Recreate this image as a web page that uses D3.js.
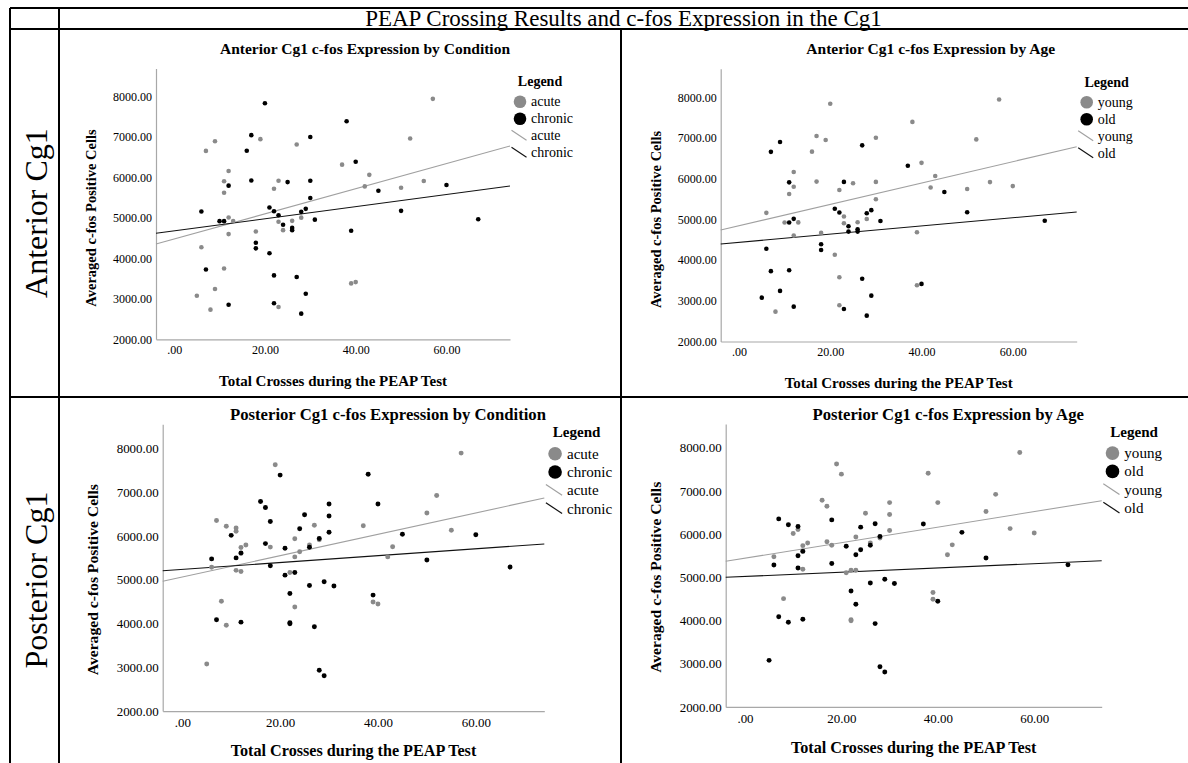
<!DOCTYPE html>
<html>
<head>
<meta charset="utf-8">
<script src="https://cdn.jsdelivr.net/npm/d3@7"></script>
<style>
  body { margin: 0; background: #fff; }
  svg text { font-family: "Liberation Serif", "Times New Roman", serif; fill: #000; }
</style>
</head>
<body>
<div id="chart"></div>
<script>
// 1: DATA - one entry per animal, the same animals appear in all four panels
const crosses = [5, 6, 6, 7, 7, 8, 9, 9, 10, 11, 11, 11, 11, 12, 12, 12, 12, 12, 13, 16,
    17, 17, 18, 18, 18, 19, 20, 21, 21, 22, 22, 22, 22, 23, 23, 23, 23, 24, 24, 25,
    26, 26, 26, 27, 27, 28, 28, 28, 29, 29, 30, 30, 30, 31, 37, 38, 39, 39, 40, 40,
    42, 43, 45, 50, 50, 52, 55, 57, 60, 67];
const anteriorCfos = [3078, 5161, 4278, 6660, 3728, 2733, 6900, 3243, 4922, 5910, 5625, 4922, 3752, 6163, 5801, 5013, 4602, 2856, 4926, 6665,
    7050, 5929, 4668, 4389, 4249, 6950, 7840, 5260, 4130, 5723, 5169, 3580, 2890, 5921, 5070, 4906, 2799, 4832, 4700, 5888,
    4930, 4755, 4700, 6820, 3542, 5152, 5009, 2635, 5227, 3127, 7005, 5921, 5494, 4960, 6320, 7395, 4685, 3383, 6390, 3415,
    5782, 6068, 5675, 5748, 5177, 6965, 5917, 7947, 5818, 4968];
const posteriorCfos = [3077, 5475, 5283, 6352, 4088, 4506, 6218, 3958, 6012, 6178, 6104, 5498, 5213, 5733, 5612, 5600, 5186, 4031, 5793, 6785,
    6647, 5824, 5744, 6329, 5319, 7625, 7388, 5717, 5104, 5165, 4685, 4015, 3995, 5521, 5165, 5935, 4376, 6161, 5640, 6483,
    5794, 5741, 4869, 6242, 3928, 5943, 5910, 2931, 4954, 2808, 6729, 6456, 6081, 4855, 6234, 7407, 4648, 4491, 6729, 4445,
    5521, 5751, 6040, 6522, 5449, 6920, 6127, 7890, 6027, 5288];
const condition = ["acute", "chronic", "acute", "acute", "chronic", "acute", "acute", "acute", "chronic", "acute",
    "acute", "chronic", "acute", "acute", "chronic", "acute", "acute", "chronic", "acute", "chronic",
    "chronic", "chronic", "acute", "chronic", "chronic", "acute", "chronic", "chronic", "chronic", "acute",
    "chronic", "chronic", "chronic", "acute", "chronic", "acute", "acute", "chronic", "acute", "chronic",
    "acute", "chronic", "chronic", "acute", "chronic", "chronic", "acute", "chronic", "chronic", "chronic",
    "chronic", "chronic", "chronic", "chronic", "acute", "chronic", "chronic", "acute", "chronic", "acute",
    "acute", "acute", "chronic", "acute", "chronic", "acute", "acute", "acute", "chronic", "chronic"];
const ageGroup = ["old", "young", "old", "old", "old", "young", "old", "old", "young", "old",
    "young", "old", "old", "young", "young", "old", "young", "old", "young", "young",
    "young", "young", "young", "old", "old", "young", "young", "old", "young", "young",
    "old", "young", "young", "old", "young", "young", "old", "old", "old", "young",
    "young", "old", "old", "old", "old", "old", "young", "old", "old", "old",
    "young", "young", "young", "old", "old", "young", "young", "young", "young", "old",
    "young", "young", "old", "young", "old", "young", "young", "young", "young", "old"];

const xTicks = [0, 20, 40, 60];
const yTicks = [2000, 3000, 4000, 5000, 6000, 7000, 8000];
const xDomain = [-4, 74];

// fit lines: [value at left end of x axis, value at right end]
const antConditionFit = [[4357, 6781], [4622, 5792]];
const antAgeFit = [[4740, 6786], [4396, 5182]];
const postConditionFit = [[4963, 6865], [5205, 5815]];
const postAgeFit = [[5370, 6773], [5000, 5384]];

const conditionGroups = ["acute", "chronic"];
const ageGroups = ["young", "old"];
const groupColors = ["#8a8a8a", "#000000"];
const lineColors = ["#a0a0a0", "#111111"];

// 2: PAGE + TABLE
const W = 1188, H = 763;
const svg = d3.select("#chart").append("svg").attr("width", W).attr("height", H);

const tbl = { left: 10, top: 8, col: 59, titleBottom: 29, rowSplit: 397, mid: 621, right: W };
const border = svg.append("g").attr("stroke", "#000").attr("stroke-width", 2);
border.append("line").attr("x1", tbl.left).attr("x2", tbl.right).attr("y1", tbl.top).attr("y2", tbl.top);
border.append("line").attr("x1", tbl.left).attr("x2", tbl.right).attr("y1", tbl.titleBottom).attr("y2", tbl.titleBottom);
border.append("line").attr("x1", tbl.left).attr("x2", tbl.right).attr("y1", tbl.rowSplit).attr("y2", tbl.rowSplit);
border.append("line").attr("x1", tbl.left).attr("x2", tbl.left).attr("y1", tbl.top).attr("y2", H);
border.append("line").attr("x1", tbl.col).attr("x2", tbl.col).attr("y1", tbl.top).attr("y2", H);
border.append("line").attr("x1", tbl.mid).attr("x2", tbl.mid).attr("y1", tbl.titleBottom).attr("y2", H);

svg.append("text")
    .attr("x", (tbl.col + tbl.right) / 2)
    .attr("y", (tbl.top + tbl.titleBottom) / 2)
    .attr("text-anchor", "middle")
    .attr("dominant-baseline", "central")
    .style("font-size", "23px")
    .text("PEAP Crossing Results and c-fos Expression in the Cg1");

[["Anterior Cg1", (tbl.titleBottom + tbl.rowSplit) / 2], ["Posterior Cg1", (tbl.rowSplit + H) / 2]].forEach(([label, cy]) => {
    svg.append("text")
        .attr("transform", `translate(${(tbl.left + tbl.col) / 2 + 1},${cy}) rotate(-90)`)
        .attr("text-anchor", "middle")
        .attr("dominant-baseline", "central")
        .style("font-size", "32px")
        .text(label);
});

// 3: PANELS
const panels = [
    { title: "Anterior Cg1 c-fos Expression by Condition", values: anteriorCfos, key: condition, groups: conditionGroups, fit: antConditionFit,
      left: 156, right: 510, bottom: 339.3, unit: 40.43, yMax: 8700, titleY: 48, xTitleGap: 42, s: 1 },
    { title: "Anterior Cg1 c-fos Expression by Age", values: anteriorCfos, key: ageGroup, groups: ageGroups, fit: antAgeFit,
      left: 720.7, right: 1076.7, bottom: 341.5, unit: 40.7, yMax: 8700, titleY: 48, xTitleGap: 41, s: 1 },
    { title: "Posterior Cg1 c-fos Expression by Condition", values: posteriorCfos, key: condition, groups: conditionGroups, fit: postConditionFit,
      left: 162.7, right: 544.3, bottom: 711.1, unit: 43.8, yMax: 8550, titleY: 414, xTitleGap: 39, s: 1.078 },
    { title: "Posterior Cg1 c-fos Expression by Age", values: posteriorCfos, key: ageGroup, groups: ageGroups, fit: postAgeFit,
      left: 725.7, right: 1101.7, bottom: 706.9, unit: 43.2, yMax: 8550, titleY: 414, xTitleGap: 41, s: 1.078 }
];

const fmt = v => v === 0 ? ".00" : d3.format(".2f")(v);

panels.forEach(p => {
    const s = p.s;
    const g = svg.append("g");

    const x = d3.scaleLinear().domain(xDomain).range([p.left, p.right]);
    const y = d3.scaleLinear().domain([2000, p.yMax])
        .range([p.bottom, p.bottom - (p.yMax - 2000) / 1000 * p.unit]);

    // axes
    const xAxis = g.append("g")
        .attr("transform", `translate(0,${p.bottom})`)
        .call(d3.axisBottom(x).tickValues(xTicks).tickFormat(fmt).tickSize(0).tickSizeOuter(0).tickPadding(6 * s));
    const yAxis = g.append("g")
        .attr("transform", `translate(${p.left},0)`)
        .call(d3.axisLeft(y).tickValues(yTicks).tickFormat(fmt).tickSize(0).tickSizeOuter(0).tickPadding(4));
    [xAxis, yAxis].forEach(a => {
        a.attr("font-family", null).attr("font-size", null);
        a.select(".domain").attr("stroke", "#a8a8a8").attr("stroke-width", 1.2);
        a.selectAll("text").style("font-size", `${12 * s}px`).attr("fill", "#000");
    });

    // fit lines
    p.fit.forEach((f, i) => {
        g.append("line")
            .attr("x1", x(xDomain[0])).attr("y1", y(f[0]))
            .attr("x2", x(xDomain[1])).attr("y2", y(f[1]))
            .attr("stroke", lineColors[i])
            .attr("stroke-width", 1.1);
    });

    // points: grey group first, black group on top
    p.groups.forEach((grp, i) => {
        const idx = d3.range(crosses.length).filter(k => p.key[k] === grp);
        g.selectAll(null)
            .data(idx)
            .join("circle")
            .attr("cx", k => x(crosses[k]))
            .attr("cy", k => y(p.values[k]))
            .attr("r", 2.3 * s)
            .attr("fill", groupColors[i]);
    });

    // titles
    g.append("text")
        .attr("x", (p.left + p.right) / 2 + 32 * s)
        .attr("y", p.titleY)
        .attr("text-anchor", "middle")
        .attr("dominant-baseline", "central")
        .style("font-size", `${15.5 * s}px`)
        .style("font-weight", "bold")
        .text(p.title);

    g.append("text")
        .attr("x", (p.left + p.right) / 2)
        .attr("y", p.bottom + p.xTitleGap)
        .attr("text-anchor", "middle")
        .attr("dominant-baseline", "central")
        .style("font-size", `${15 * s}px`)
        .style("font-weight", "bold")
        .text("Total Crosses during the PEAP Test");

    g.append("text")
        .attr("transform", `translate(${p.left - 65 * s},${(y(2000) + y(8000)) / 2}) rotate(-90)`)
        .attr("text-anchor", "middle")
        .attr("dominant-baseline", "central")
        .style("font-size", `${14.5 * s}px`)
        .style("font-weight", "bold")
        .text("Averaged c-fos Positive Cells");

    // legend
    const y8 = y(8000);
    const lx = p.right;
    g.append("text")
        .attr("x", lx + 30 * s)
        .attr("y", y8 - 15 * s)
        .attr("text-anchor", "middle")
        .attr("dominant-baseline", "central")
        .style("font-size", `${14 * s}px`)
        .style("font-weight", "bold")
        .text("Legend");

    const items = p.groups.map((grp, i) => ({ label: grp, kind: "dot", i }))
        .concat(p.groups.map((grp, i) => ({ label: grp, kind: "line", i })));
    items.forEach((it, k) => {
        const ty = y8 + (5 + 17 * k) * s;
        if (it.kind === "dot") {
            g.append("circle")
                .attr("cx", lx + 10 * s).attr("cy", ty)
                .attr("r", 6.3 * s)
                .attr("fill", groupColors[it.i]);
        } else {
            g.append("line")
                .attr("x1", lx + 1.5 * s).attr("y1", ty - 5.5 * s)
                .attr("x2", lx + 16.5 * s).attr("y2", ty + 4.5 * s)
                .attr("stroke", lineColors[it.i])
                .attr("stroke-width", 1.2);
        }
        g.append("text")
            .attr("x", lx + 21 * s)
            .attr("y", ty)
            .attr("dominant-baseline", "central")
            .style("font-size", `${14 * s}px`)
            .text(it.label);
    });
});
</script>
</body>
</html>
